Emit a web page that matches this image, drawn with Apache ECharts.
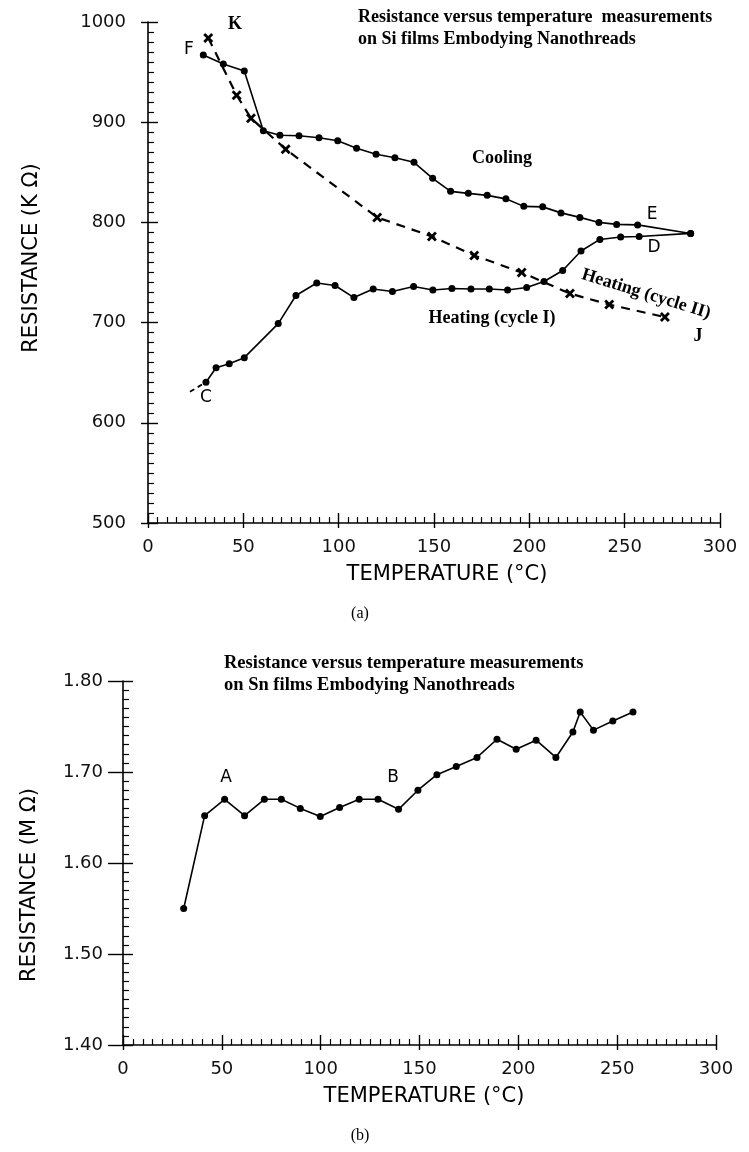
<!DOCTYPE html>
<html><head><meta charset="utf-8">
<script src="https://cdn.jsdelivr.net/npm/echarts@6/dist/echarts.min.js"></script>
<style>html,body{margin:0;padding:0;background:#fff}#c{width:749px;height:1152px}</style>
</head><body><div id="c"></div>
<script>
// Chart (a): Si films
const coolingT = [29, 39.5, 50.5, 60.5, 69.2, 79.2, 89.7, 99.5, 109.4, 119.6, 129.5, 139.5, 149.3, 158.7, 168, 177.9, 187.7, 197.1, 207, 216.6, 226.5, 236.5, 245.8, 256.8, 284.6];
const coolingR = [967, 958, 951, 891.5, 887, 886.5, 884.5, 881.5, 874, 868, 864.5, 860, 844, 831, 829, 827, 823.5, 816, 815.5, 809.5, 805, 800, 798, 797.5, 789];
const heat1T = [30.4, 35.7, 42.6, 50.5, 68.3, 77.6, 88.5, 98.1, 108, 118.1, 128.2, 139.3, 149.4, 159.4, 169.4, 179, 188.6, 198.6, 207.7, 217.5, 227.1, 237, 247.9, 257.6, 284.6];
const heat1R = [640.5, 655, 659, 665, 699, 727, 739.5, 737, 725, 733.5, 731, 736, 732.5, 734, 733.5, 733.5, 732.5, 735, 741, 752, 771.5, 783, 785.5, 786, 789];
const heat2T = [31.6, 46.5, 54, 72.2, 120.2, 148.9, 171.1, 196, 221.3, 241.9, 271.1];
const heat2R = [984, 927, 904, 873, 805, 786, 767, 750, 729, 718, 705.5];
const stubT = [22, 30.4];
const stubR = [631, 640.5];
const xTicksA = [0, 50, 100, 150, 200, 250, 300];
const yTicksA = [500, 600, 700, 800, 900, 1000];
// Chart (b): Sn films
const snT = [30.7, 41.3, 51.4, 61.5, 71.5, 80.1, 89.7, 99.8, 109.6, 119.5, 129, 139.4, 149.2, 158.8, 168.6, 179.1, 189.2, 198.9, 209, 219, 227.6, 231.3, 238, 247.8, 258];
const snR = [1.55, 1.652, 1.670, 1.652, 1.670, 1.670, 1.660, 1.651, 1.661, 1.670, 1.670, 1.659, 1.680, 1.697, 1.706, 1.716, 1.736, 1.725, 1.735, 1.716, 1.744, 1.766, 1.746, 1.756, 1.766];
const yTicksB = [1.40, 1.50, 1.60, 1.70, 1.80];

const zip = (a, b) => a.map((v, i) => [v, b[i]]);
const SANS = 'DejaVu Sans';
const XSYM = 'path://M0,2 L2,0 L5,3 L8,0 L10,2 L7,5 L10,8 L8,10 L5,7 L2,10 L0,8 L3,5 Z';

const gridA = {left: 148, top: 22, width: 572, height: 501};
const gridB = {left: 123, top: 681, width: 593, height: 364};

function mainX(gi, ticks) {
  return {type: 'value', gridIndex: gi, min: ticks[0], max: ticks[ticks.length - 1], interval: ticks[1] - ticks[0],
    axisLine: {lineStyle: {color: '#000', width: 1.6}},
    axisTick: {inside: true, length: 10, lineStyle: {color: '#000', width: 1.4}},
    minorTick: {show: true, splitNumber: 10, length: 6, lineStyle: {color: '#000', width: 1.2}},
    splitLine: {show: false},
    axisLabel: {color: '#111', fontFamily: SANS, fontSize: 18, margin: 15, formatter: v => String(v)}};
}
function mainY(gi, ticks, fmt, margin) {
  return {type: 'value', gridIndex: gi, min: ticks[0], max: ticks[ticks.length - 1], interval: +(ticks[1] - ticks[0]).toFixed(4),
    axisLine: {lineStyle: {color: '#000', width: 1.6}},
    axisTick: {inside: true, length: 10, lineStyle: {color: '#000', width: 1.4}},
    minorTick: {show: true, splitNumber: 10, length: 6, lineStyle: {color: '#000', width: 1.2}},
    splitLine: {show: false},
    axisLabel: {color: '#111', fontFamily: SANS, fontSize: 18, margin: margin, formatter: fmt}};
}
function outX(gi, ticks) {
  return {type: 'value', gridIndex: gi, min: ticks[0], max: ticks[ticks.length - 1], interval: ticks[1] - ticks[0],
    axisLine: {show: false}, axisTick: {inside: false, length: 5, lineStyle: {color: '#000', width: 1.4}},
    axisLabel: {show: false}, splitLine: {show: false}};
}
function outY(gi, ticks, len) {
  return {type: 'value', gridIndex: gi, min: ticks[0], max: ticks[ticks.length - 1], interval: +(ticks[1] - ticks[0]).toFixed(4),
    axisLine: {show: false}, axisTick: {inside: false, length: len, lineStyle: {color: '#000', width: 1.4}},
    axisLabel: {show: false}, splitLine: {show: false}};
}

const solid = {color: '#000', width: 1.6};
const txt = (x, y, s, font, rot) => ({type: 'text', x: x, y: y, rotation: rot || 0,
  style: {text: s, font: font, fill: '#000', textAlign: 'center', textVerticalAlign: 'middle'}});

const option = {
  animation: false,
  backgroundColor: '#fff',
  grid: [gridA, gridA, gridB, gridB],
  xAxis: [mainX(0, xTicksA), outX(1, xTicksA), mainX(2, xTicksA), outX(3, xTicksA)],
  yAxis: [mainY(0, yTicksA, v => String(v), 22), outY(1, yTicksA, 7),
          mainY(2, yTicksB, v => v.toFixed(2), 20), outY(3, yTicksB, 15)],
  series: [
    {type: 'line', name: 'Cooling', xAxisIndex: 0, yAxisIndex: 0, data: zip(coolingT, coolingR),
      symbol: 'circle', symbolSize: 7, itemStyle: {color: '#000'}, lineStyle: solid},
    {type: 'line', name: 'Heating (cycle I)', xAxisIndex: 0, yAxisIndex: 0, data: zip(heat1T, heat1R),
      symbol: 'circle', symbolSize: 7, itemStyle: {color: '#000'}, lineStyle: solid},
    {type: 'line', name: 'Heating (cycle II)', xAxisIndex: 0, yAxisIndex: 0, data: zip(heat2T, heat2R),
      symbol: XSYM, symbolSize: 10, itemStyle: {color: '#000'}, lineStyle: {color: '#000', width: 2.2, type: [9, 7]}},
    {type: 'line', name: 'stub', xAxisIndex: 0, yAxisIndex: 0, data: zip(stubT, stubR),
      symbol: 'none', lineStyle: {color: '#000', width: 1.8, type: [5, 4]}},
    {type: 'line', name: 'Sn', xAxisIndex: 2, yAxisIndex: 2, data: zip(snT, snR),
      symbol: 'circle', symbolSize: 7, itemStyle: {color: '#000'}, lineStyle: solid}
  ],
  graphic: [
    {type: 'text', left: 358, top: 6, style: {text: 'Resistance versus temperature  measurements\non Si films Embodying Nanothreads',
      font: 'bold 18px "Liberation Serif"', fill: '#000', lineHeight: 22}},
    {type: 'text', left: 224, top: 652, style: {text: 'Resistance versus temperature measurements\non Sn films Embodying Nanothreads',
      font: 'bold 18.5px "Liberation Serif"', fill: '#000', lineHeight: 22}},
    txt(447, 575, 'TEMPERATURE (°C)', '21px "DejaVu Sans"'),
    txt(424, 1097, 'TEMPERATURE (°C)', '21px "DejaVu Sans"'),
    txt(360, 614, '(a)', '16px "Liberation Serif"'),
    txt(360, 1136, '(b)', '16px "Liberation Serif"'),
    txt(32, 258, 'RESISTANCE (K Ω)', '21px "DejaVu Sans"', Math.PI / 2),
    txt(30, 885, 'RESISTANCE (M Ω)', '21px "DejaVu Sans"', Math.PI / 2),
    txt(235, 24, 'K', 'bold 18px "Liberation Serif"'),
    txt(189, 50, 'F', '17px "DejaVu Sans"'),
    txt(502, 158, 'Cooling', 'bold 18px "Liberation Serif"'),
    txt(652, 215, 'E', '17px "DejaVu Sans"'),
    txt(654, 248, 'D', '17px "DejaVu Sans"'),
    txt(492, 318, 'Heating (cycle I)', 'bold 18px "Liberation Serif"'),
    txt(646, 294, 'Heating (cycle II)', 'bold 18px "Liberation Serif"', -0.3),
    txt(698, 336, 'J', 'bold 18px "Liberation Serif"'),
    txt(206, 398, 'C', '17px "DejaVu Sans"'),
    txt(226, 778, 'A', '17px "DejaVu Sans"'),
    txt(393, 778, 'B', '17px "DejaVu Sans"')
  ]
};
const chart = echarts.init(document.getElementById('c'), null, {renderer: 'canvas'});
chart.setOption(option);
</script></body></html>
